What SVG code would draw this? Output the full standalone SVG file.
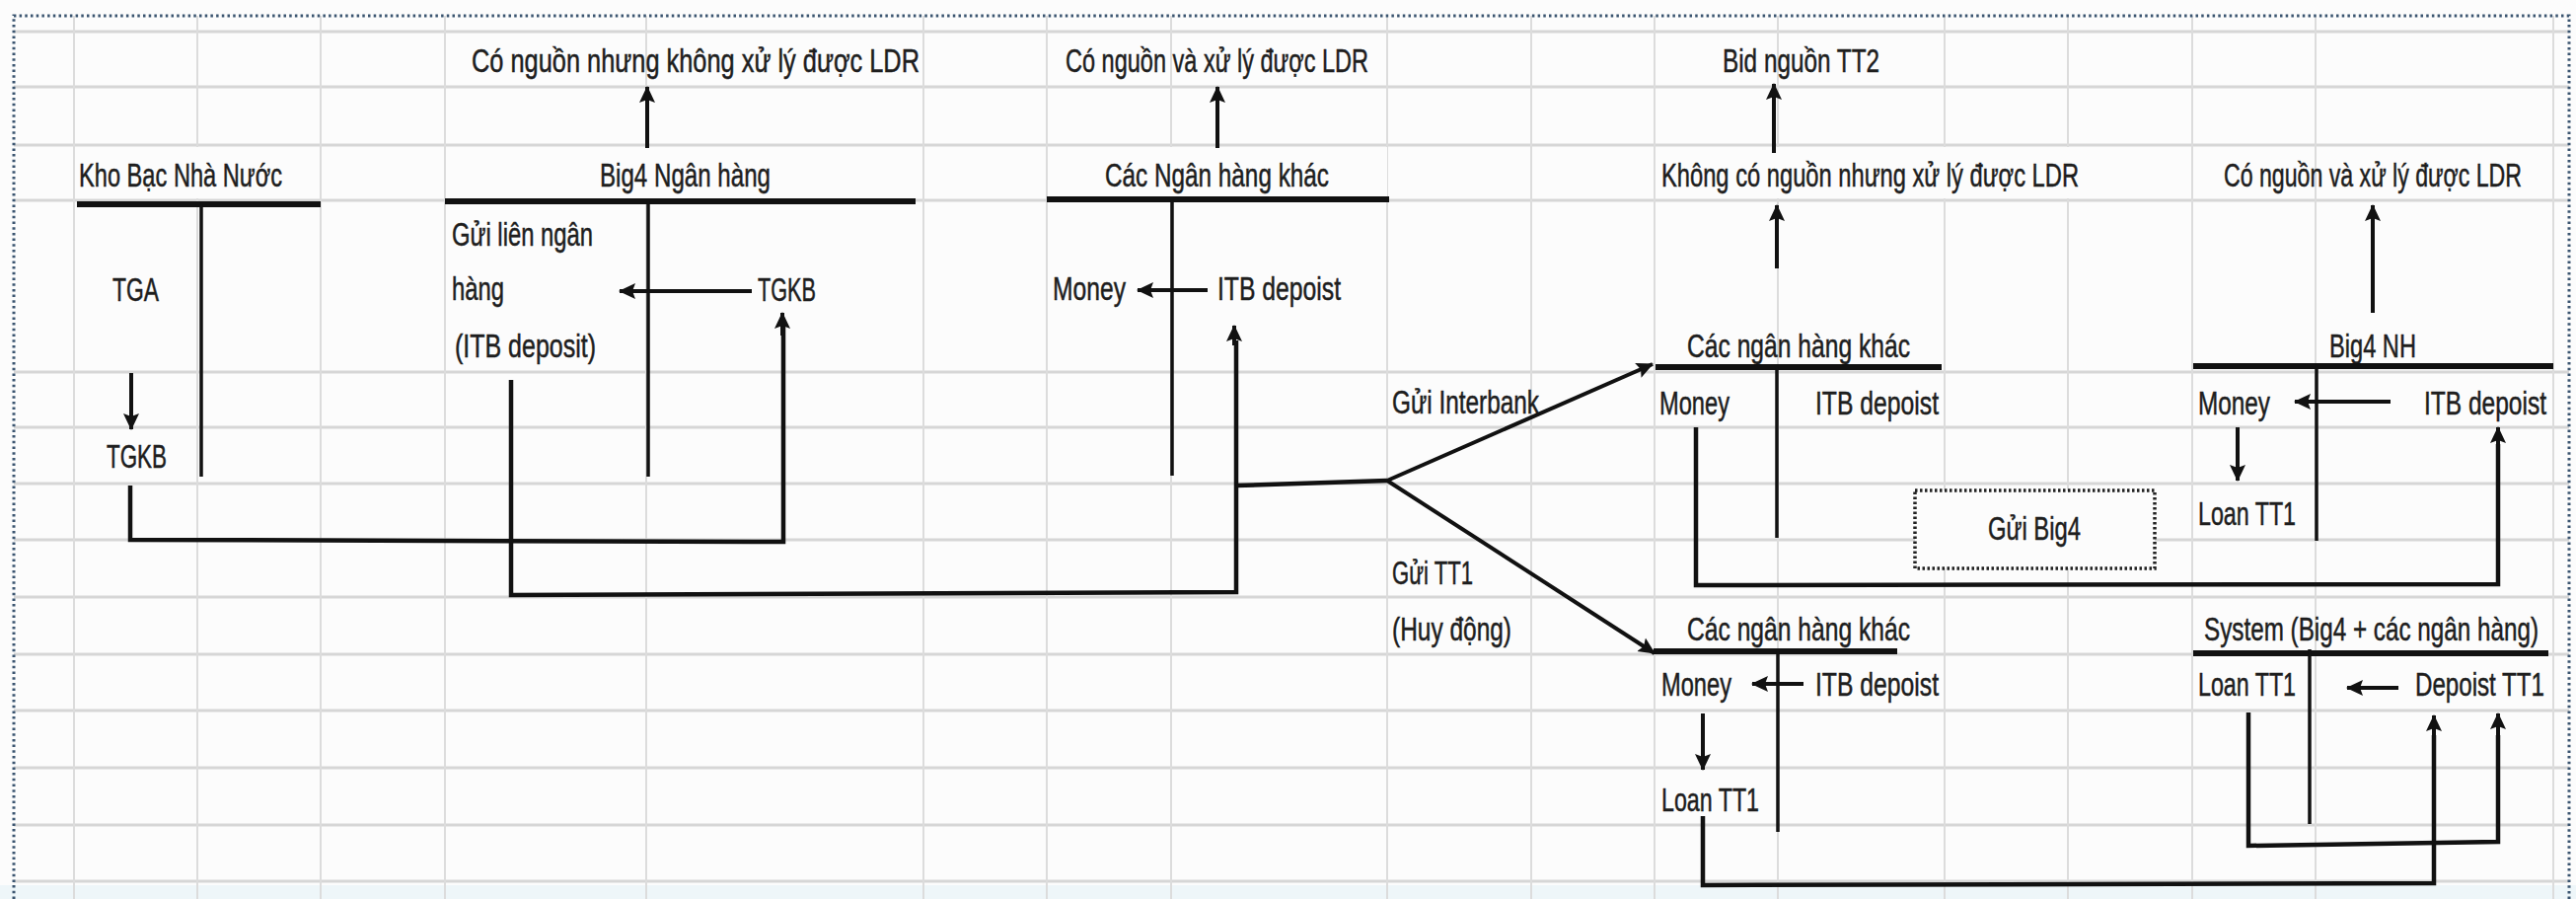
<svg xmlns="http://www.w3.org/2000/svg" width="2611" height="911" viewBox="0 0 2611 911">
<style>
.bg{fill:#fcfcfc}
.gh{stroke:#d6d6d6;stroke-width:3}
.gv{stroke:#dcdcdc;stroke-width:2}
.t{font-family:"Liberation Sans Narrow","Liberation Sans",Arial,sans-serif;font-size:33px;fill:#1e1e1e;stroke:#1e1e1e;stroke-width:0.5}
.tl{stroke:#111;stroke-width:6;fill:none}
.tv{stroke:#111;stroke-width:3.5;fill:none}
.ar{stroke:#111;stroke-width:4;fill:none;marker-end:url(#ah)}
.cn{stroke:#111;stroke-width:4.5;fill:none;stroke-linejoin:miter}
.box{fill:#fcfcfc}
</style>
<defs>
<marker id="ah" markerUnits="userSpaceOnUse" markerWidth="20" markerHeight="18" refX="16" refY="8" orient="auto" viewBox="0 0 20 16">
<path d="M0,0 L17,8 L0,16 L3,8 z" fill="#111"/>
</marker>
</defs>
<rect class="bg" x="0" y="0" width="2611" height="911"/>
<rect x="0" y="897" width="2611" height="14" fill="#eef6f9"/>
<g id="grid">
<line class="gh" x1="14" y1="32" x2="2604" y2="32"/>
<line class="gh" x1="14" y1="88" x2="2604" y2="88"/>
<line class="gh" x1="14" y1="147" x2="2604" y2="147"/>
<line class="gh" x1="14" y1="203" x2="2604" y2="203"/>
<line class="gh" x1="14" y1="377" x2="2604" y2="377"/>
<line class="gh" x1="14" y1="433" x2="2604" y2="433"/>
<line class="gh" x1="14" y1="490" x2="2604" y2="490"/>
<line class="gh" x1="14" y1="547" x2="2604" y2="547"/>
<line class="gh" x1="14" y1="605" x2="2604" y2="605"/>
<line class="gh" x1="14" y1="663" x2="2604" y2="663"/>
<line class="gh" x1="14" y1="720" x2="2604" y2="720"/>
<line class="gh" x1="14" y1="778" x2="2604" y2="778"/>
<line class="gh" x1="14" y1="836" x2="2604" y2="836"/>
<line class="gh" x1="14" y1="893" x2="2604" y2="893"/>
<line class="gv" x1="75" y1="16" x2="75" y2="911"/>
<line class="gv" x1="200" y1="16" x2="200" y2="911"/>
<line class="gv" x1="325" y1="16" x2="325" y2="911"/>
<line class="gv" x1="451" y1="16" x2="451" y2="911"/>
<line class="gv" x1="655" y1="16" x2="655" y2="911"/>
<line class="gv" x1="936" y1="16" x2="936" y2="911"/>
<line class="gv" x1="1061" y1="16" x2="1061" y2="911"/>
<line class="gv" x1="1187" y1="16" x2="1187" y2="911"/>
<line class="gv" x1="1406" y1="16" x2="1406" y2="911"/>
<line class="gv" x1="1552" y1="16" x2="1552" y2="911"/>
<line class="gv" x1="1677" y1="16" x2="1677" y2="911"/>
<line class="gv" x1="1802" y1="16" x2="1802" y2="911"/>
<line class="gv" x1="1971" y1="16" x2="1971" y2="911"/>
<line class="gv" x1="2096" y1="16" x2="2096" y2="911"/>
<line class="gv" x1="2222" y1="16" x2="2222" y2="911"/>
<line class="gv" x1="2347" y1="16" x2="2347" y2="911"/>
<line class="gv" x1="2588" y1="16" x2="2588" y2="911"/>
</g>
<g id="selection-border" fill="none" stroke="#3b5570" stroke-width="3" stroke-dasharray="2.5 3.2">
<path d="M14,911 L14,16 L2604,16 L2604,911"/>
</g>

<g id="label-top-1"><text class="t" x="478" y="73" textLength="454" lengthAdjust="spacingAndGlyphs">Có nguồn nhưng không xử lý được LDR</text></g>
<g id="label-top-2"><text class="t" x="1080" y="73" textLength="307" lengthAdjust="spacingAndGlyphs">Có nguồn và xử lý được LDR</text></g>
<g id="label-top-3"><text class="t" x="1746" y="73" textLength="159" lengthAdjust="spacingAndGlyphs">Bid nguồn TT2</text></g>
<g id="label-khong-co"><rect class="box" x="1679" y="149" width="430" height="52"/><text class="t" x="1684" y="189" textLength="423" lengthAdjust="spacingAndGlyphs">Không có nguồn nhưng xử lý được LDR</text></g>
<g id="label-co-nguon-right"><text class="t" x="2254" y="189" textLength="302" lengthAdjust="spacingAndGlyphs">Có nguồn và xử lý được LDR</text></g>

<g id="kho-bac">
<rect class="box" x="76" y="149" width="248" height="52"/>
<text class="t" x="80" y="189" textLength="206" lengthAdjust="spacingAndGlyphs">Kho Bạc Nhà Nước</text>
<line class="tl" x1="78" y1="207" x2="325" y2="207"/>
<line class="tv" x1="204" y1="207" x2="204" y2="483"/>
<text class="t" x="114" y="305" textLength="47" lengthAdjust="spacingAndGlyphs">TGA</text>
<text class="t" x="108" y="474" textLength="61" lengthAdjust="spacingAndGlyphs">TGKB</text>
</g>

<g id="big4-ngan-hang">
<rect class="box" x="452" y="149" width="475" height="52"/>
<text class="t" x="608" y="189" textLength="173" lengthAdjust="spacingAndGlyphs">Big4 Ngân hàng</text>
<line class="tl" x1="451" y1="204" x2="928" y2="204"/>
<line class="tv" x1="657" y1="204" x2="657" y2="483"/>
<text class="t" x="458" y="249" textLength="143" lengthAdjust="spacingAndGlyphs">Gửi liên ngân</text>
<text class="t" x="458" y="304" textLength="53" lengthAdjust="spacingAndGlyphs">hàng</text>
<text class="t" x="461" y="362" textLength="143" lengthAdjust="spacingAndGlyphs">(ITB deposit)</text>
<text class="t" x="768" y="305" textLength="59" lengthAdjust="spacingAndGlyphs">TGKB</text>
</g>

<g id="cac-ngan-hang-khac-1">
<rect class="box" x="1062" y="149" width="344" height="52"/>
<text class="t" x="1120" y="189" textLength="227" lengthAdjust="spacingAndGlyphs">Các Ngân hàng khác</text>
<line class="tl" x1="1061" y1="202" x2="1408" y2="202"/>
<line class="tv" x1="1188" y1="202" x2="1188" y2="482"/>
<text class="t" x="1067" y="304" textLength="74" lengthAdjust="spacingAndGlyphs">Money</text>
<text class="t" x="1234" y="304" textLength="125" lengthAdjust="spacingAndGlyphs">ITB depoist</text>
</g>

<g id="labels-flow">
<text class="t" x="1411" y="419" textLength="149" lengthAdjust="spacingAndGlyphs">Gửi Interbank</text>
<text class="t" x="1411" y="592" textLength="82" lengthAdjust="spacingAndGlyphs">Gửi TT1</text>
<text class="t" x="1411" y="649" textLength="121" lengthAdjust="spacingAndGlyphs">(Huy động)</text>
</g>

<g id="cac-ngan-hang-khac-2">
<text class="t" x="1710" y="362" textLength="226" lengthAdjust="spacingAndGlyphs">Các ngân hàng khác</text>
<line class="tl" x1="1678" y1="372" x2="1968" y2="372"/>
<line class="tv" x1="1801" y1="372" x2="1801" y2="545"/>
<text class="t" x="1682" y="420" textLength="71" lengthAdjust="spacingAndGlyphs">Money</text>
<text class="t" x="1840" y="420" textLength="125" lengthAdjust="spacingAndGlyphs">ITB depoist</text>
</g>

<g id="big4-nh">
<text class="t" x="2361" y="362" textLength="88" lengthAdjust="spacingAndGlyphs">Big4 NH</text>
<line class="tl" x1="2223" y1="371" x2="2588" y2="371"/>
<line class="tv" x1="2348" y1="371" x2="2348" y2="548"/>
<text class="t" x="2228" y="420" textLength="73" lengthAdjust="spacingAndGlyphs">Money</text>
<text class="t" x="2457" y="420" textLength="124" lengthAdjust="spacingAndGlyphs">ITB depoist</text>
<text class="t" x="2228" y="532" textLength="99" lengthAdjust="spacingAndGlyphs">Loan TT1</text>
</g>

<g id="gui-big4">
<rect x="1941" y="497" width="243" height="79" fill="#fcfcfc" stroke="#222" stroke-width="3.5" stroke-dasharray="2.5 2.5"/>
<text class="t" x="2015" y="547" textLength="94" lengthAdjust="spacingAndGlyphs">Gửi Big4</text>
</g>

<g id="cac-ngan-hang-khac-3">
<text class="t" x="1710" y="649" textLength="226" lengthAdjust="spacingAndGlyphs">Các ngân hàng khác</text>
<line class="tl" x1="1676" y1="660" x2="1923" y2="660"/>
<line class="tv" x1="1802" y1="660" x2="1802" y2="843"/>
<text class="t" x="1684" y="705" textLength="71" lengthAdjust="spacingAndGlyphs">Money</text>
<text class="t" x="1840" y="705" textLength="125" lengthAdjust="spacingAndGlyphs">ITB depoist</text>
<text class="t" x="1684" y="822" textLength="99" lengthAdjust="spacingAndGlyphs">Loan TT1</text>
</g>

<g id="system">
<text class="t" x="2234" y="649" textLength="339" lengthAdjust="spacingAndGlyphs">System (Big4 + các ngân hàng)</text>
<line class="tl" x1="2223" y1="662" x2="2583" y2="662"/>
<line class="tv" x1="2341" y1="658" x2="2341" y2="835"/>
<text class="t" x="2228" y="705" textLength="99" lengthAdjust="spacingAndGlyphs">Loan TT1</text>
<text class="t" x="2448" y="705" textLength="131" lengthAdjust="spacingAndGlyphs">Depoist TT1</text>
</g>

<g id="connectors">
<line class="ar" x1="656" y1="150" x2="656" y2="88"/>
<line class="ar" x1="1234" y1="150" x2="1234" y2="88"/>
<line class="ar" x1="1798" y1="155" x2="1798" y2="85"/>
<line class="ar" x1="1801" y1="272" x2="1801" y2="208"/>
<line class="ar" x1="2405" y1="317" x2="2405" y2="208"/>
<line class="ar" x1="133" y1="378" x2="133" y2="435"/>
<line class="ar" x1="762" y1="295" x2="628" y2="295"/>
<line class="ar" x1="1224" y1="294" x2="1153" y2="294"/>
<line class="ar" x1="2423" y1="407" x2="2326" y2="407"/>
<line class="ar" x1="1828" y1="693" x2="1776" y2="693"/>
<line class="ar" x1="2431" y1="697" x2="2379" y2="697"/>
<line class="ar" x1="2268" y1="433" x2="2268" y2="487"/>
<line class="ar" x1="1726" y1="723" x2="1726" y2="780"/>
<path class="cn" d="M132,492 L132,547 L794,549 L794,330"/>
<line class="ar" x1="793" y1="340" x2="793" y2="317"/>
<path class="cn" d="M518,385 L518,603 L1253,600 L1253,345"/>
<line class="ar" x1="1251" y1="350" x2="1251" y2="330"/>
<path class="cn" d="M1253,492 L1406,487"/>
<line class="ar" x1="1406" y1="487" x2="1675" y2="369"/>
<line class="ar" x1="1406" y1="487" x2="1677" y2="662"/>
<path class="cn" d="M1719,433 L1719,593 L2532,592 L2532,450"/>
<line class="ar" x1="2532" y1="455" x2="2532" y2="433"/>
<path class="cn" d="M1726,827 L1726,897 L2467,895 L2467,745"/>
<line class="ar" x1="2467" y1="750" x2="2467" y2="725"/>
<path class="cn" d="M2279,722 L2279,857 L2532,853 L2532,745"/>
<line class="ar" x1="2532" y1="750" x2="2532" y2="723"/>
</g>
</svg>
